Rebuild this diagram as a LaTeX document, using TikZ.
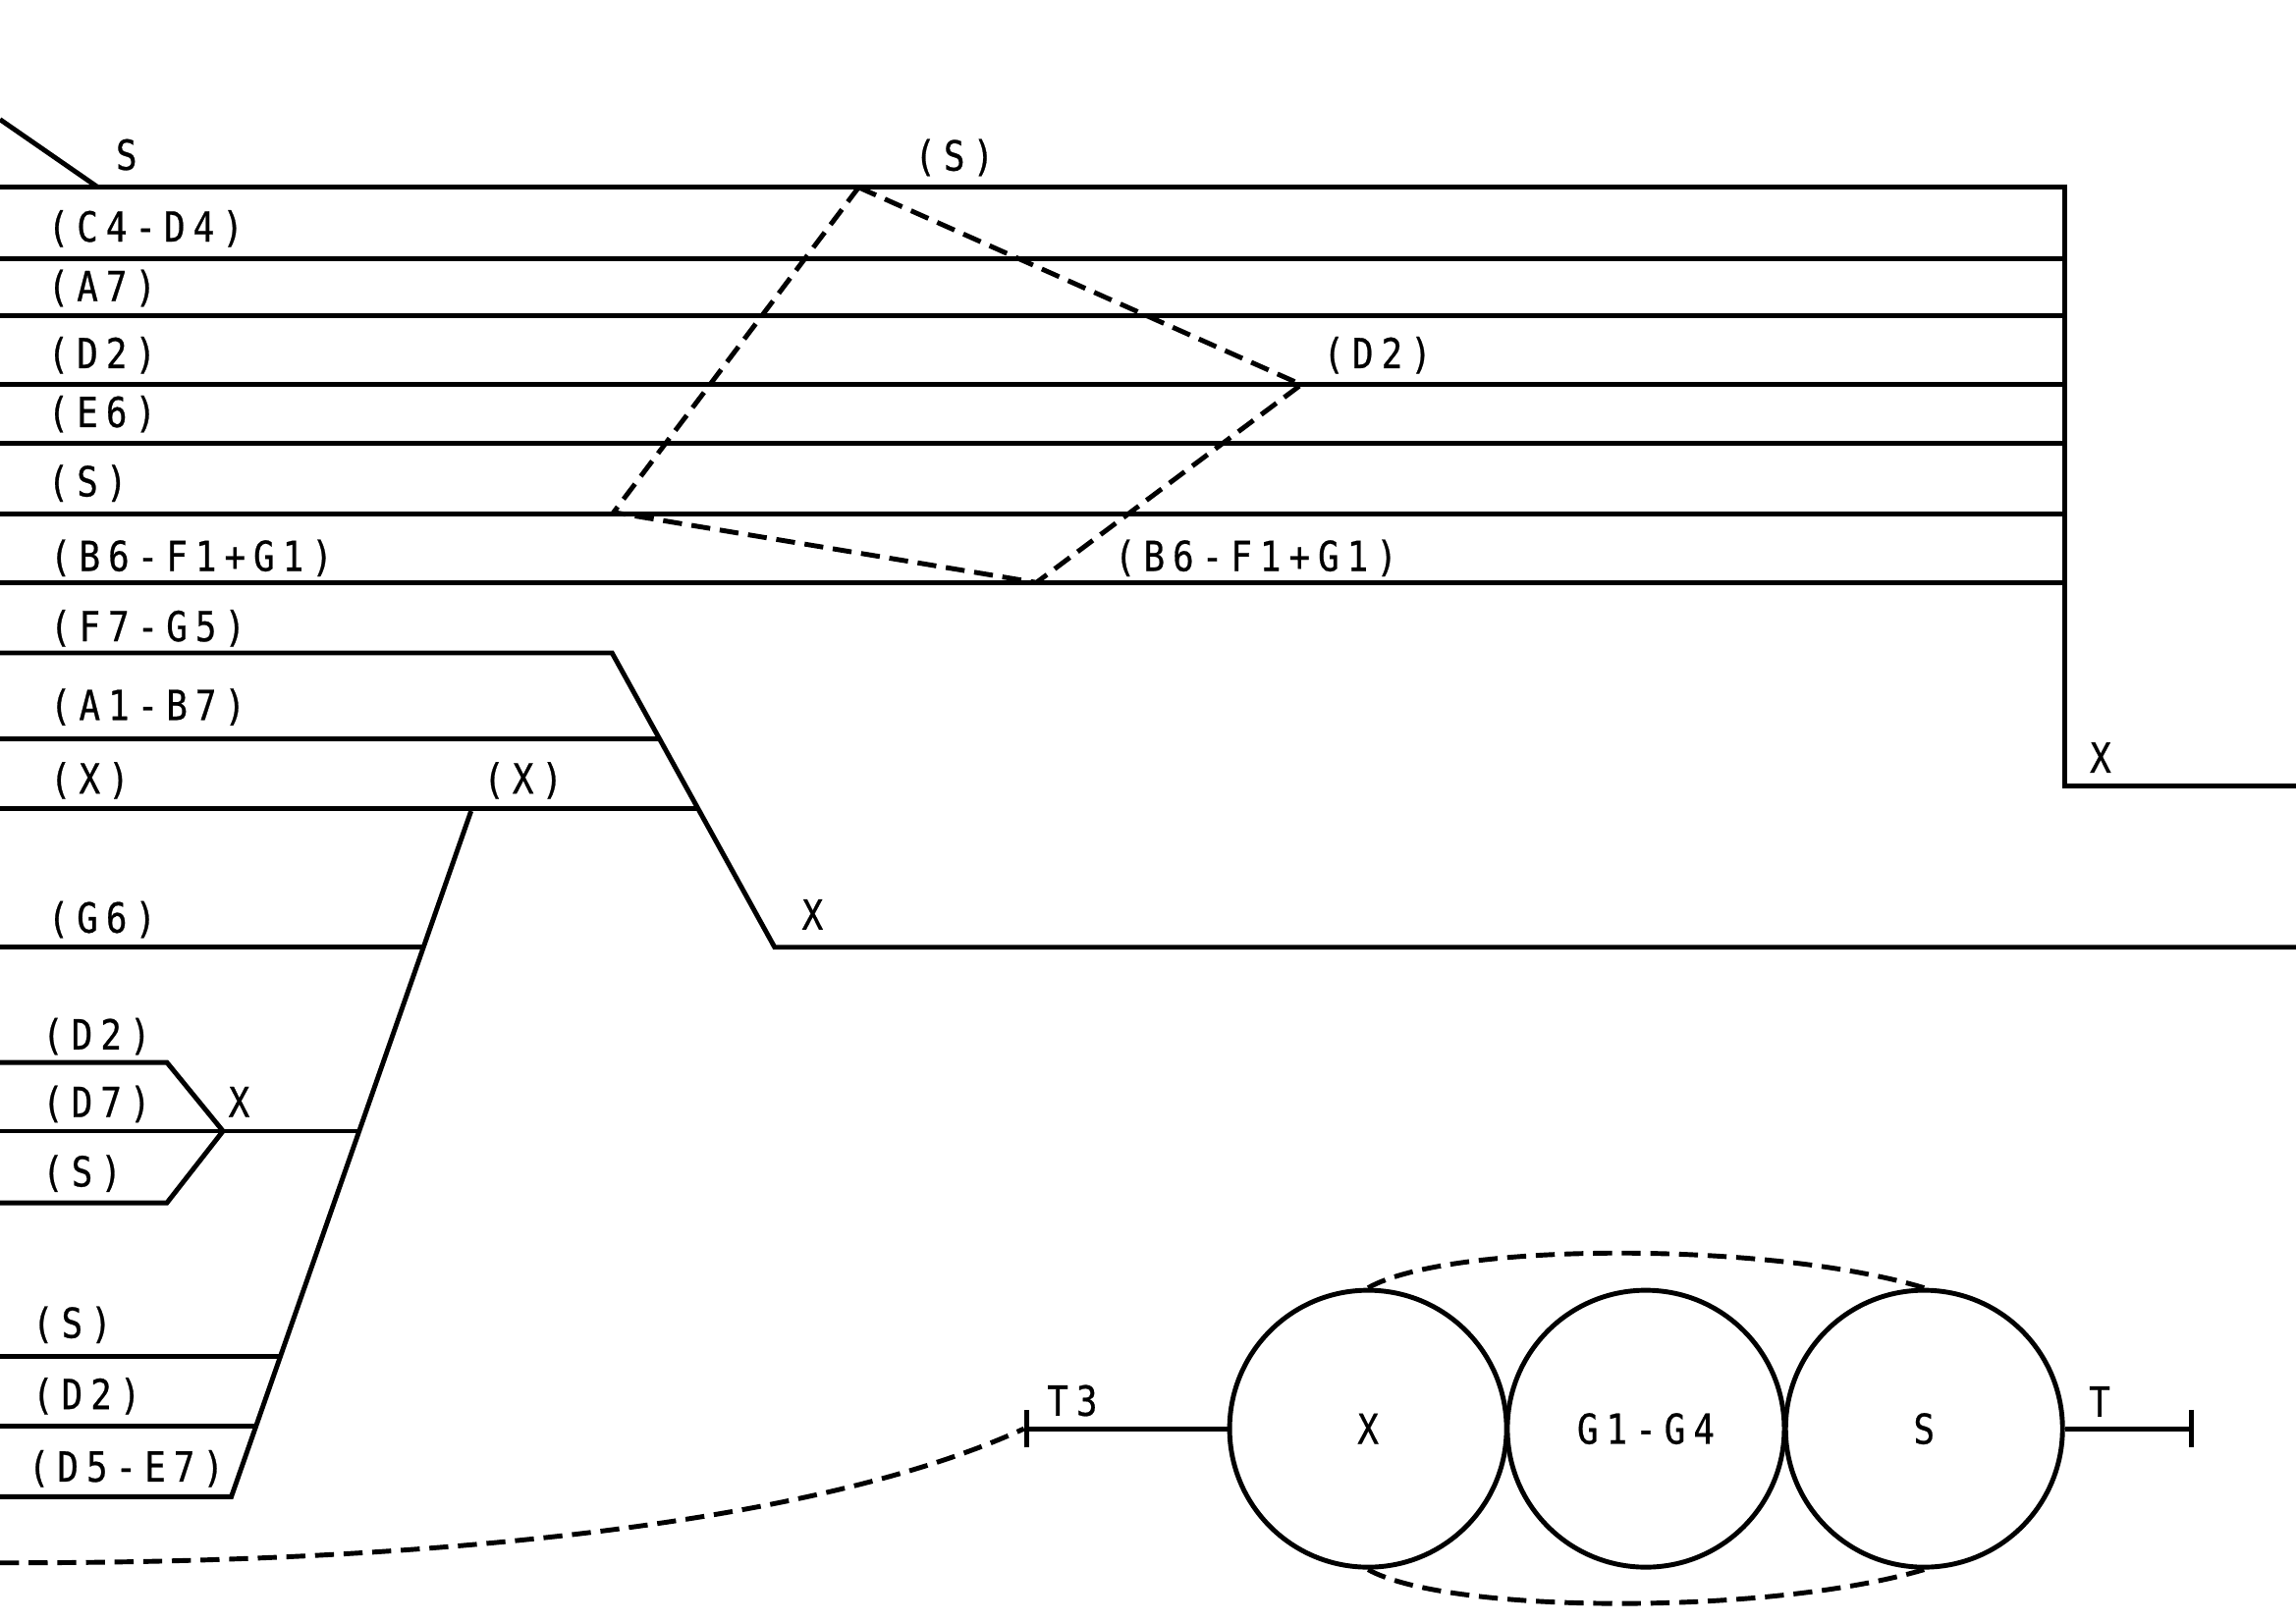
\documentclass[tikz,border=0pt]{standalone}
\usepackage{fontspec}
\usetikzlibrary{arrows.meta}
\newfontfamily\monofont[FakeStretch=0.85,LetterSpace=19,FakeBold=0.6]{DejaVu Sans Mono}
\newcommand\lblfont{\monofont\fontsize{12pt}{14pt}\selectfont}
\tikzset{
  lbl/.style={anchor=base west, inner sep=0pt, font=\lblfont},
  ring/.style={draw, circle, minimum size=28.2mm, inner sep=0pt, font=\lblfont},
  dsh/.style={dash pattern=on 5.5pt off 2.8pt}
}

\begin{document}
\begin{tikzpicture}[x=0.1491mm,y=-0.1491mm,line width=1.4pt]
\useasboundingbox (0,0) rectangle (1568,1108.6);
\draw (0,81.6) -- (67,128);
\draw (0,128) -- (1410,128) -- (1410,537) -- (1568,537);
\draw (0,176.6) -- (1410,176.6);
\draw (0,215.7) -- (1410,215.7);
\draw (0,262.7) -- (1410,262.7);
\draw (0,302.9) -- (1410,302.9);
\draw (0,351) -- (1410,351);
\draw (0,397.9) -- (1410,397.9);
\draw (0,446) -- (418,446) -- (529,647) -- (1568,647);
\draw (0,504.5) -- (450.3,504.5);
\draw (0,552) -- (476.5,552);
\draw (0,647) -- (289.5,647);
\draw (0,1022.3) -- (158,1022.3) -- (321.7,554);
\draw (0,725.7) -- (114,725.7) -- (152.3,772.6) -- (114,821.6) -- (0,821.6);
\draw (0,772.6) -- (245.5,772.6);
\draw (0,926.3) -- (191.6,926.3);
\draw (0,974) -- (174.9,974);
\draw[dsh] (586.4,128) -- (888.7,262.7) -- (707.8,397.9) -- (419,350) -- cycle;

\node[lbl] (s1) at (77.5,116) {S};
\node[lbl] (s2) at (623,116.5) {(S)};
\node[lbl] (c4d4) at (31,165) {(C4-D4)};
\node[lbl] (a7) at (31,205.7) {(A7)};
\node[lbl] (d2a) at (31,251.5) {(D2)};
\node[lbl] (d2b) at (902,251.5) {(D2)};
\node[lbl] (e6) at (31,291.7) {(E6)};
\node[lbl] (s3) at (31,339) {(S)};
\node[lbl] (b6a) at (32.5,390) {(B6-F1+G1)};
\node[lbl] (b6b) at (759.5,390) {(B6-F1+G1)};
\node[lbl] (f7g5) at (32.5,438) {(F7-G5)};
\node[lbl] (a1b7) at (32.5,491.8) {(A1-B7)};
\node[lbl] (xa) at (32.5,542) {(X)};
\node[lbl] (xb) at (328.5,542) {(X)};
\node[lbl] (xc) at (546,635) {X};
\node[lbl] (xd) at (1425.6,527.8) {X};
\node[lbl] (g6) at (31,637) {(G6)};
\node[lbl] (d2c) at (27.3,716.8) {(D2)};
\node[lbl] (d7) at (27.3,763) {(D7)};
\node[lbl] (xe) at (154.4,763) {X};
\node[lbl] (s4) at (27.3,810.4) {(S)};
\node[lbl] (s5) at (20.5,913.8) {(S)};
\node[lbl] (d2d) at (20.5,962.5) {(D2)};
\node[lbl] (d5e7) at (17.7,1012) {(D5-E7)};

\node[ring] (x) at (934.3,975.9) {X};
\node[ring] (g) at (1124,975.9) {G1-G4};
\node[ring] (s) at (1314,975.9) {S};
\coordinate (t3) at (699.3,975.9);
\coordinate (te) at (1498.5,975.9);
\draw[{Bar[width=11pt]}-] (t3) -- (x);
\draw[-{Bar[width=11pt]}] (s) -- (te);
\node[lbl] (t3l) at (713.5,967) {T3};
\node[lbl] (tl) at (1425,967.6) {T};
\draw[dsh] (x.north) .. controls (990,848) and (1210,848) .. (s.north);
\draw[dsh] (x.south) .. controls (990,1103) and (1210,1103) .. (s.south);
\draw[dsh] (0,1067.5) .. controls (300,1068) and (560,1040) .. (t3);
\end{tikzpicture}
\end{document}
